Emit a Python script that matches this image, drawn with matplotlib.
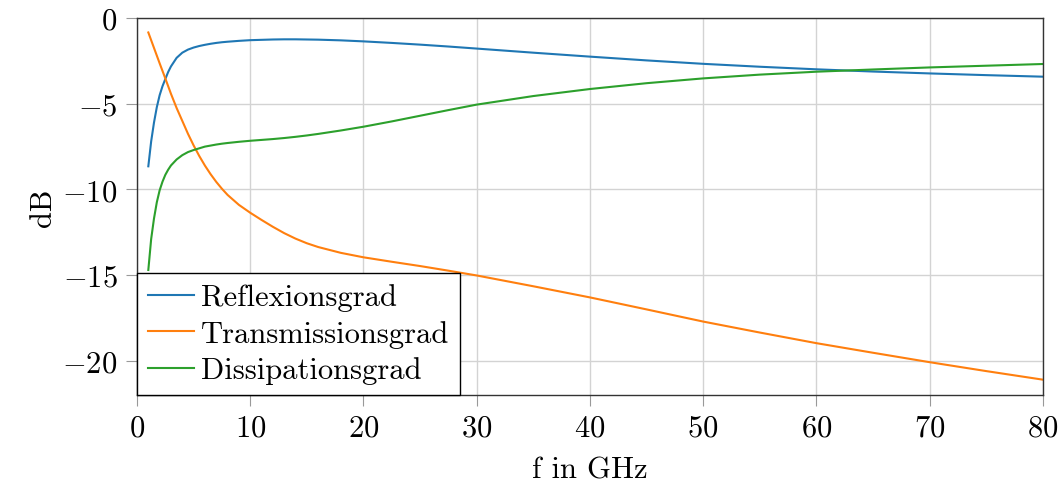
import numpy as np
from matplotlib import pyplot as plt

plt.rcParams['font.family'] = 'serif'
plt.rcParams['font.serif'] = ['cmr10']
plt.rcParams['mathtext.fontset'] = 'cm'
plt.rcParams['axes.formatter.use_mathtext'] = True

#------------------------------------------------------------
# frequency points (GHz) and the three power ratios in dB
f_ghz = [1, 1.25, 1.5, 1.75, 2, 2.25, 2.5, 2.75, 3, 3.5, 4, 4.5, 5, 5.5, 6,
         6.5, 7, 7.5, 8, 9, 10, 11, 12, 13, 14, 15, 16, 18, 20, 22.5, 25,
         27.5, 30, 35, 40, 45, 50, 55, 60, 65, 70, 75, 80]

reflexion = [-8.65, -7.2, -6.1, -5.2, -4.5, -3.98, -3.56, -3.15, -2.82, -2.32,
             -2.02, -1.84, -1.72, -1.63, -1.56, -1.5, -1.45, -1.41, -1.38,
             -1.33, -1.29, -1.27, -1.25, -1.24, -1.24, -1.25, -1.26, -1.3,
             -1.36, -1.45, -1.55, -1.66, -1.78, -2.02, -2.25, -2.47, -2.67,
             -2.84, -2.99, -3.12, -3.23, -3.33, -3.42]

transmission = [-0.84, -1.29, -1.74, -2.19, -2.64, -3.08, -3.52, -3.97, -4.42,
                -5.25, -6.0, -6.75, -7.43, -8.05, -8.61, -9.11, -9.56, -9.96,
                -10.32, -10.9, -11.36, -11.78, -12.18, -12.55, -12.87, -13.14,
                -13.36, -13.7, -13.96, -14.22, -14.47, -14.74, -15.02, -15.65,
                -16.3, -17.0, -17.71, -18.35, -18.97, -19.53, -20.08, -20.6,
                -21.1]

dissipation = [-14.7, -12.9, -11.7, -10.75, -10.05, -9.55, -9.15, -8.85, -8.6,
               -8.25, -8.0, -7.82, -7.7, -7.6, -7.5, -7.44, -7.38, -7.33,
               -7.29, -7.22, -7.16, -7.11, -7.06, -7.0, -6.93, -6.85, -6.76,
               -6.56, -6.34, -6.03, -5.7, -5.37, -5.05, -4.55, -4.14, -3.8,
               -3.52, -3.3, -3.13, -3.0, -2.88, -2.78, -2.68]

labels = ['Reflexionsgrad', 'Transmissionsgrad', 'Dissipationsgrad']
colors = ['#1f77b4', '#ff7f0e', '#2ca02c']

#------------------------------------------------------------
fig = plt.figure(figsize=(10.62, 4.89), dpi=100)
ax = fig.add_axes([0.129, 0.190, 0.853, 0.771])

for y, lab, col in zip([reflexion, transmission, dissipation], labels, colors):
    ax.plot(f_ghz, y, color=col, lw=1.5, label=lab)

ax.set_xlim(0, 80)
ax.set_ylim(-22, 0)
ax.set_xticks(np.arange(0, 81, 10))
ax.set_yticks([-20, -15, -10, -5, 0])
ax.grid(True, color='#d3d3d3', lw=1.0)
ax.set_axisbelow(True)
ax.tick_params(direction='out', length=8, width=0.8, color='#999999',
               labelsize=22, pad=6)
for sp in ax.spines.values():
    sp.set_color('#333333')
    sp.set_linewidth(1.0)

ax.set_xlabel('f in GHz', fontsize=22, labelpad=10)
ax.set_ylabel('dB', fontsize=22, labelpad=4)

leg = ax.legend(loc='lower left', borderaxespad=0, fontsize=22,
                fancybox=False, framealpha=1, edgecolor='black',
                handlelength=1.5, handletextpad=0.25, labelspacing=0.28,
                borderpad=0.35)
leg.get_frame().set_linewidth(1.0)

plt.savefig('out.png', dpi=100)
